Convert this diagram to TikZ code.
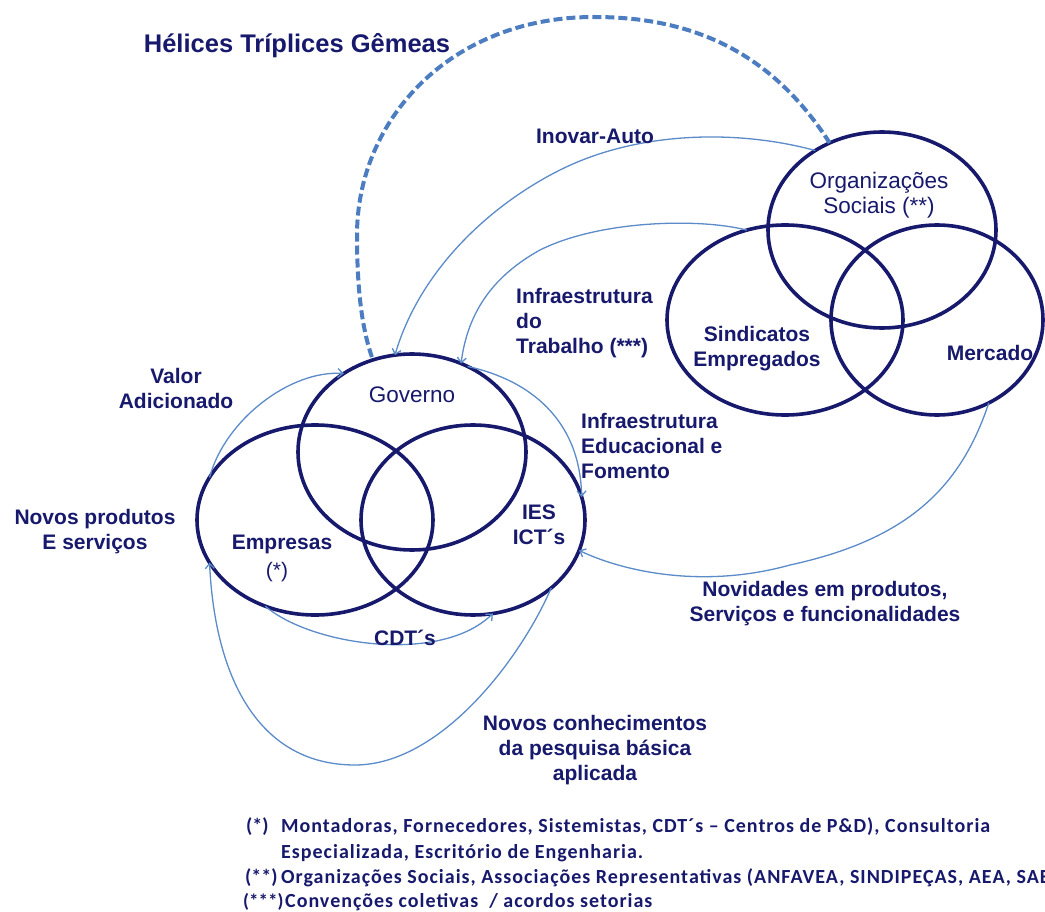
\documentclass[tikz,border=0pt]{standalone}
\usepackage{fontspec}
\setmainfont{Liberation Sans}
\newfontfamily\footfont[LetterSpace=5]{Carlito}
\newfontfamily\footmarkfont{Carlito}
\usetikzlibrary{shapes.geometric,arrows.meta}
\definecolor{navy}{HTML}{17196C}
\definecolor{flowblue}{HTML}{5B8BC9}
\definecolor{dashblue}{HTML}{4C7DC0}
\tikzset{
  venn/.style={ellipse, draw=navy, line width=3.6pt, inner sep=0pt, outer sep=0pt},
  lab/.style={text=navy, inner sep=0pt, align=center,
    font=\bfseries\fontsize{21}{25}\selectfont},
  labreg/.style={text=navy, inner sep=0pt, align=center,
    font=\fontsize{22.5}{25}\selectfont},
  flow/.style={draw=flowblue, line width=1.3pt,
    -{Straight Barb[length=5pt,width=9pt]}},
  twin/.style={draw=dashblue, line width=4pt, dash pattern=on 9pt off 4pt},
  note/.style={text=navy, inner sep=0pt, anchor=west,
    font=\footfont\bfseries\fontsize{20}{26}\selectfont},
  notemark/.style={text=navy, inner sep=0pt, anchor=west,
    font=\footmarkfont\bfseries\fontsize{20}{26}\selectfont}
}
\begin{document}
\begin{tikzpicture}[x=1pt,y=-1pt]
\useasboundingbox (0,0) rectangle (1045,912);
\clip (0,0) rectangle (1045,912);
\fill[white] (0,0) rectangle (1045,912);

% left triple helix
\node[venn, minimum width=228pt, minimum height=196pt] (gov) at (412,452) {};
\node[venn, minimum width=236pt, minimum height=190pt] (emp) at (315,520) {};
\node[venn, minimum width=224pt, minimum height=190pt] (ies) at (473,520) {};

% right triple helix
\node[venn, minimum width=228pt, minimum height=196pt] (org) at (882,230) {};
\node[venn, minimum width=236pt, minimum height=190pt] (sind) at (785,320) {};
\node[venn, minimum width=212pt, minimum height=190pt] (merc) at (937,320) {};

% labels inside the circles
\node[labreg] (tgov) at (412,395) {Governo};
\node[lab] (temp) at (282,544) {Empresas};
\node[labreg, font=\fontsize{21}{25}\selectfont] (tempa) at (277,572) {(*)};
\node[lab] (ties) at (539,525) {IES\\ICT´s};
\node[labreg] (torg) at (879,195) {Organizações\\Sociais (**)};
\node[lab] (tsind) at (757,349) {Sindicatos\\Empregados};
\node[lab] (tmerc) at (990,353) {Mercado};

% title
\node[lab, font=\bfseries\fontsize{25.5}{30}\selectfont] (title) at (297,46) {Hélices Tríplices Gêmeas};

% connectors
\draw[twin] (org.121) .. controls (770,50) and (690,17) .. (594,17)
  .. controls (450,17) and (357,120) .. (357,235)
  .. controls (357,290) and (362,330) .. (gov.113);
\draw[flow] (org.130) .. controls (740,130) and (640,130) .. (560,170)
  .. controls (490,205) and (420,270) .. (gov.100);
\draw[flow] (sind.113) .. controls (700,218) and (600,220) .. (540,250)
  .. controls (495,275) and (468,310) .. (gov.61);
\draw[flow] (gov.57) .. controls (530,380) and (580,420) .. (ies.12);
\draw[flow] (emp.158) .. controls (225,420) and (290,370) .. (gov.131);
\draw[flow] (emp.-120) .. controls (310,645) and (440,665) .. (ies.-78);
\draw[flow] (merc.-58) .. controls (960,490) and (905,540) .. (790,565)
  .. controls (700,590) and (620,570) .. (ies.-16);
\draw[flow] (ies.-41) .. controls (520,660) and (440,765) .. (355,765)
  .. controls (260,765) and (215,680) .. (emp.202);

% connector labels
\node[lab] (linov) at (595,136) {Inovar-Auto};
\node[lab, align=left, anchor=west] (ltrab) at (516,323) {Infraestrutura\\do\\Trabalho (***)};
\node[lab] (lvalor) at (176,388) {Valor\\Adicionado};
\node[lab] (lnovos) at (95,532) {Novos produtos\\E serviços};
\node[lab, align=left, anchor=west] (ledu) at (581,446) {Infraestrutura\\Educacional e\\Fomento};
\node[lab] (lnovid) at (825,604) {Novidades em produtos,\\Serviços e funcionalidades};
\node[lab] (lcdt) at (405,638) {CDT´s};
\node[lab] (lconh) at (595,750) {Novos conhecimentos\\da pesquisa básica\\aplicada};

% footnotes
\node[notemark] (n1m) at (246,827) {(*)};
\node[note] (n1) at (281,827) {Montadoras, Fornecedores, Sistemistas, CDT´s – Centros de P\&D), Consultoria};
\node[note] (n1b) at (281,853) {Especializada, Escritório de Engenharia.};
\node[notemark] (n2m) at (245,878) {(**)};
\node[note] (n2) at (281,878) {Organizações Sociais, Associações Representativas (ANFAVEA, SINDIPEÇAS, AEA, SAE};
\node[notemark, font=\footmarkfont\bfseries\fontsize{19}{26}\selectfont] (n3m) at (243,902) {(***)};
\node[note] (n3) at (285,902) {Convenções coletivas\ \ / acordos setorias};
\end{tikzpicture}
\end{document}
